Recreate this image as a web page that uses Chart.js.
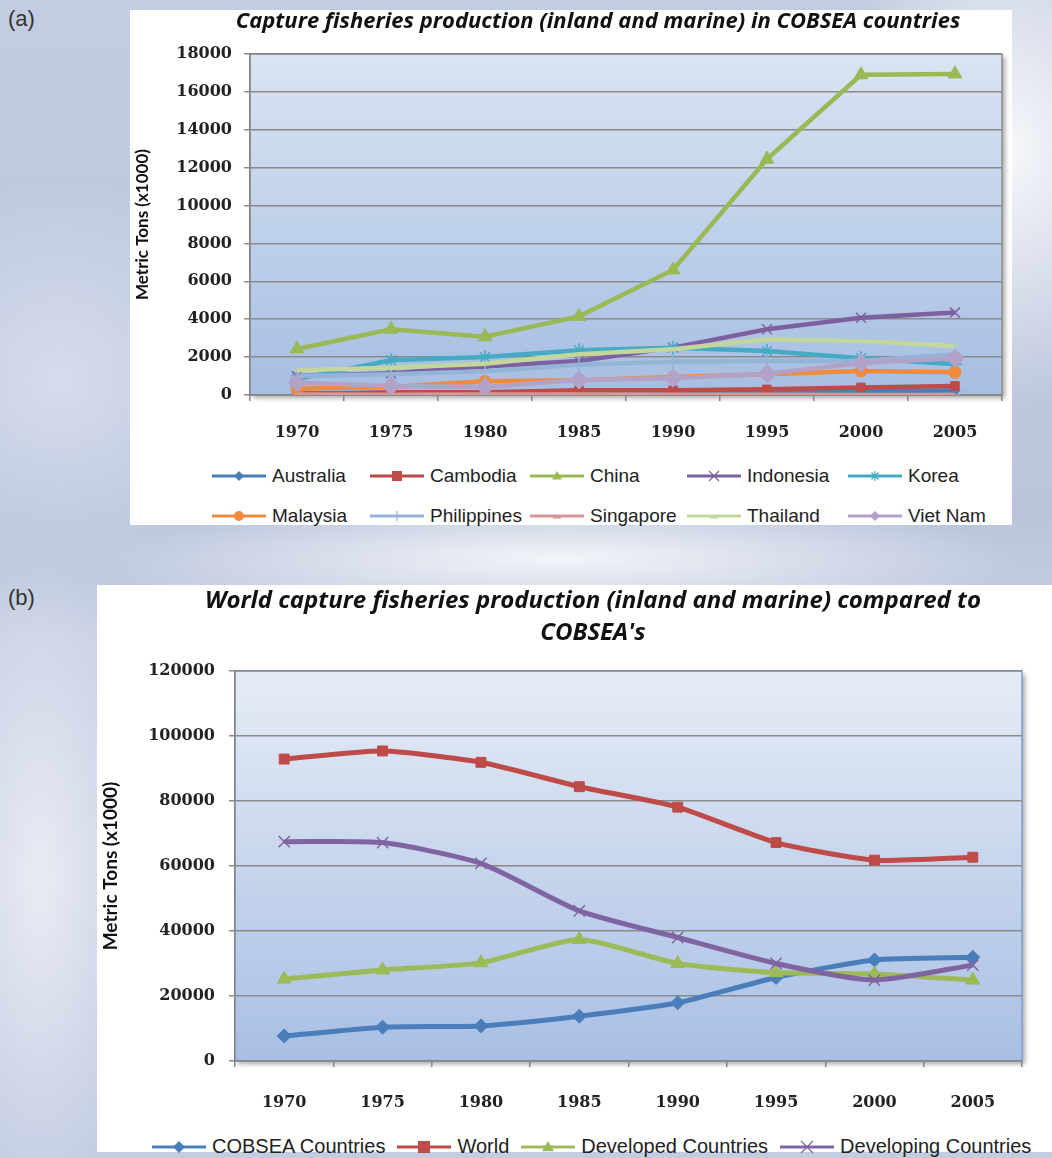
<!DOCTYPE html>
<html lang="en">
<head>
  <meta charset="UTF-8">
  <title>Capture fisheries production - COBSEA</title>
  <script src="https://cdn.jsdelivr.net/npm/chart.js"></script>
  <style>
    body {
      margin: 0;
      width: 1052px;
      height: 1158px;
      overflow: hidden;
      position: relative;
      font-family: Lato, sans-serif;
      background:
        radial-gradient(ellipse 180px 260px at 1010px 150px, rgba(255,255,255,0.85), rgba(255,255,255,0) 100%),
        radial-gradient(ellipse 460px 60px at 560px 558px, rgba(255,255,255,0.8), rgba(255,255,255,0) 100%),
        radial-gradient(ellipse 110px 320px at 40px 880px, rgba(255,255,255,0.6), rgba(255,255,255,0) 100%),
        radial-gradient(ellipse 200px 200px at 60px 380px, rgba(230,236,246,0.6), rgba(255,255,255,0) 100%),
        linear-gradient(180deg, #c3cce0 0%, #bac5dc 45%, #c9d1e4 55%, #c3cde2 100%);
    }
    .tag {
      position: absolute;
      font: 22px "Liberation Sans", Arial, sans-serif;
      color: #333;
    }
    .panel {
      position: absolute;
      background: #fff;
    }
    .panel canvas {
      position: absolute;
      left: 0;
      top: 0;
    }
    .title {
      position: absolute;
      transform: translateX(-50%);
      white-space: nowrap;
      font-family: "Open Sans", Lato, sans-serif;
      font-style: italic;
      font-weight: bold;
      color: #111;
      text-align: center;
    }
    .item {
      position: absolute;
      display: flex;
      align-items: center;
      white-space: nowrap;
      font-family: "Liberation Sans Narrow", "Liberation Sans", sans-serif;
      color: #222;
    }
    .item svg { margin-right: 6px; }
    #lb {
      position: absolute;
      display: flex;
      align-items: center;
      gap: 12px;
    }
    #lb .item { position: static; }
  </style>
</head>
<body>
  <div class="tag" style="left:8px; top:6px;">(a)</div>
  <div class="panel" style="left:130px; top:10px; width:882px; height:515px;">
    <canvas id="ca" width="882" height="440"></canvas>
    <div class="title" style="left:468px; top:-6px; font-size:22px;">Capture fisheries production (inland and marine) in COBSEA countries</div>
    <div id="la"></div>
  </div>

  <div class="tag" style="left:8px; top:585px;">(b)</div>
  <div class="panel" style="left:97px; top:585px; width:955px; height:567px;">
    <canvas id="cb" width="955" height="540"></canvas>
    <div class="title" style="left:496px; top:-2px; font-size:24px; line-height:32px;">World capture fisheries production (inland and marine) compared to<br>COBSEA's</div>
    <div id="lb" style="left:55px; top:550px;"></div>
  </div>

  <script>
    // ---- data (a) : thousand metric tons
    const years = ['1970', '1975', '1980', '1985', '1990', '1995', '2000', '2005'];
    const australia   = [90, 110, 130, 160, 210, 210, 200, 240];
    const cambodia    = [30, 150, 150, 250, 250, 300, 400, 480];
    const china       = [2430, 3470, 3080, 4150, 6600, 12450, 16900, 16950];
    const indonesia   = [1000, 1150, 1500, 1800, 2500, 3470, 4080, 4350];
    const korea       = [840, 1830, 2000, 2360, 2500, 2320, 1940, 1620];
    const malaysia    = [330, 420, 720, 780, 950, 1100, 1270, 1200];
    const philippines = [1000, 1100, 1250, 1600, 1750, 1800, 1800, 2150];
    const singapore   = [20, 15, 20, 20, 15, 10, 5, 5];
    const thailand    = [1300, 1440, 1650, 2150, 2410, 2940, 2850, 2590];
    const vietnam     = [650, 480, 420, 790, 880, 1120, 1690, 1940];

    // ---- data (b)
    const cobsea     = [7700, 10400, 10800, 13800, 17900, 25700, 31100, 31900];
    const world      = [92900, 95400, 91900, 84400, 78100, 67200, 61800, 62700];
    const developed  = [25200, 28000, 30200, 37400, 30000, 27200, 26800, 24900];
    const developing = [67500, 67200, 60800, 46200, 38000, 30000, 24900, 29500];

    const seriesA = [
      { label: 'Australia',   data: australia,   color: '#4a7ebb', style: 'rectRot',  r: 5 },
      { label: 'Cambodia',    data: cambodia,    color: '#be4b48', style: 'rect',     r: 6 },
      { label: 'China',       data: china,       color: '#98b954', style: 'triangle', r: 8 },
      { label: 'Indonesia',   data: indonesia,   color: '#7d60a0', style: 'crossRot', r: 7 },
      { label: 'Korea',       data: korea,       color: '#46aac5', style: 'star',     r: 7 },
      { label: 'Malaysia',    data: malaysia,    color: '#f08a3c', style: 'circle',   r: 6 },
      { label: 'Philippines', data: philippines, color: '#95b3d7', style: 'cross',    r: 7 },
      { label: 'Singapore',   data: singapore,   color: '#d99694', style: 'line',     r: 5 },
      { label: 'Thailand',    data: thailand,    color: '#c3d69b', style: 'line',     r: 5 },
      { label: 'Viet Nam',    data: vietnam,     color: '#b3a2c7', style: 'rectRot',  r: 9 }
    ];

    const seriesB = [
      { label: 'COBSEA Countries',     data: cobsea,     color: '#4a7ebb', style: 'rectRot',  r: 7 },
      { label: 'World',                data: world,      color: '#be4b48', style: 'rect',     r: 7 },
      { label: 'Developed Countries',  data: developed,  color: '#9bbb59', style: 'triangle', r: 8 },
      { label: 'Developing Countries', data: developing, color: '#8064a2', style: 'crossRot', r: 8 }
    ];

    // plot area fill with a soft shadow, like the spreadsheet original
    const plotBg = {
      id: 'plotBg',
      beforeDraw(chart, args, opts) {
        const { ctx, chartArea: a } = chart;
        ctx.save();
        ctx.shadowColor = 'rgba(0,0,0,0.35)';
        ctx.shadowBlur = 5;
        ctx.shadowOffsetX = 3;
        ctx.shadowOffsetY = 3;
        const g = ctx.createLinearGradient(0, a.top, 0, a.bottom);
        g.addColorStop(0, opts.top);
        g.addColorStop(1, opts.bottom);
        ctx.fillStyle = g;
        ctx.fillRect(a.left, a.top, a.width, a.height);
        ctx.shadowColor = 'transparent';
        ctx.strokeStyle = opts.border;
        ctx.lineWidth = 1.5;
        ctx.strokeRect(a.left, a.top, a.width, a.height);
        ctx.restore();
      }
    };

    function makeDatasets(list, lw, tension) {
      return list.map((s, i) => ({
        label: s.label,
        data: s.data,
        borderColor: s.color,
        backgroundColor: s.color,
        borderWidth: lw,
        pointStyle: s.style,
        pointRadius: s.r,
        pointHoverRadius: s.r,
        pointBackgroundColor: s.color,
        pointBorderColor: s.color,
        pointBorderWidth: (s.style === 'crossRot' || s.style === 'cross' || s.style === 'star') ? 1.5 : 1,
        tension: tension,
        order: list.length - i   // later series on top
      }));
    }

    const tickFont = { family: 'DejaVu Serif', size: 16, weight: 'bold' };
    const axisTitleFont = (size) => ({ family: 'Lato', size: size, weight: 'bold' });

    function makeChart(id, list, cfg) {
      return new Chart(document.getElementById(id), {
        type: 'line',
        data: { labels: years, datasets: makeDatasets(list, cfg.lw, cfg.tension) },
        plugins: [plotBg],
        options: {
          responsive: false,
          animation: false,
          layout: { padding: cfg.pad },
          plugins: {
            legend: { display: false },
            tooltip: { enabled: false },
            plotBg: cfg.bg
          },
          scales: {
            x: {
              offset: true,
              grid: { offset: true, drawOnChartArea: false, tickLength: 6, color: '#868686', lineWidth: 1.5 },
              border: { color: '#868686', width: 1.5 },
              ticks: { font: tickFont, color: '#222', padding: cfg.xPad },
              afterFit(s) { s.height = cfg.xH; }
            },
            y: {
              min: 0,
              max: cfg.max,
              ticks: {
                stepSize: cfg.step,
                font: tickFont,
                color: '#222',
                padding: cfg.yPad,
                callback: (v) => String(v)
              },
              grid: { color: '#8a8a8a', lineWidth: 1.5, tickLength: 6 },
              border: { color: '#868686', width: 1.5 },
              title: {
                display: true,
                text: 'Metric Tons (x1000)',
                font: axisTitleFont(cfg.titleSize),
                color: '#111',
                padding: { top: 2, bottom: 0 }
              },
              afterFit(s) { s.width = cfg.yW; }
            }
          }
        }
      });
    }

    makeChart('ca', seriesA, {
      lw: 4.5, max: 18000, step: 2000, tension: 0,
      pad: { top: 44, right: 9, bottom: 0, left: 0 },
      xH: 55, yW: 120, xPad: 22, yPad: 12, titleSize: 17,
      bg: { top: '#dae4f2', bottom: '#a6bee3', border: '#8d8d8d' }
    });

    makeChart('cb', seriesB, {
      lw: 5, max: 120000, step: 20000, tension: 0.2,
      pad: { top: 86, right: 30, bottom: 0, left: 0 },
      xH: 64, yW: 138, xPad: 26, yPad: 14, titleSize: 19,
      bg: { top: '#e6ecf6', bottom: '#a8bfe4', border: '#7ea0d2' }
    });

    // legend swatches: line with the series marker
    function marker(style, color, r) {
      const c = 27, m = 10;
      switch (style) {
        case 'rectRot':
          return `<polygon points="${c},${m - r} ${c + r},${m} ${c},${m + r} ${c - r},${m}" fill="${color}"/>`;
        case 'rect':
          return `<rect x="${c - r}" y="${m - r}" width="${2 * r}" height="${2 * r}" fill="${color}"/>`;
        case 'triangle':
          return `<polygon points="${c},${m - r} ${c + r},${m + r * 0.7} ${c - r},${m + r * 0.7}" fill="${color}"/>`;
        case 'circle':
          return `<circle cx="${c}" cy="${m}" r="${r}" fill="${color}"/>`;
        case 'crossRot':
          return `<path d="M${c - r},${m - r}L${c + r},${m + r}M${c + r},${m - r}L${c - r},${m + r}" stroke="${color}" stroke-width="1.2"/>`;
        case 'cross':
          return `<path d="M${c},${m - r}L${c},${m + r}M${c - r},${m}L${c + r},${m}" stroke="${color}" stroke-width="1.2"/>`;
        case 'star':
          return `<path d="M${c},${m - r}L${c},${m + r}M${c - r},${m}L${c + r},${m}M${c - r * 0.7},${m - r * 0.7}L${c + r * 0.7},${m + r * 0.7}M${c + r * 0.7},${m - r * 0.7}L${c - r * 0.7},${m + r * 0.7}" stroke="${color}" stroke-width="1.2"/>`;
        default:
          return `<path d="M${c - 4},${m + 1}L${c + 4},${m + 1}" stroke="${color}" stroke-width="3"/>`;
      }
    }

    function swatch(s, r) {
      return `<svg width="54" height="20" viewBox="0 0 54 20">` +
        `<line x1="0" y1="10" x2="54" y2="10" stroke="${s.color}" stroke-width="3"/>` +
        marker(s.style, s.color, r) + `</svg>`;
    }

    const la = document.getElementById('la');
    const colX = [82, 240, 400, 557, 718];
    seriesA.forEach((s, i) => {
      const el = document.createElement('div');
      el.className = 'item';
      el.style.left = colX[i % 5] + 'px';
      el.style.top = (i < 5 ? 455 : 495) + 'px';
      el.style.fontSize = '19px';
      el.innerHTML = swatch(s, 5) + `<span>${s.label}</span>`;
      la.appendChild(el);
    });

    const lb = document.getElementById('lb');
    seriesB.forEach((s) => {
      const el = document.createElement('div');
      el.className = 'item';
      el.style.fontSize = '20px';
      el.innerHTML = swatch(s, 6) + `<span>${s.label}</span>`;
      lb.appendChild(el);
    });
  </script>
</body>
</html>
